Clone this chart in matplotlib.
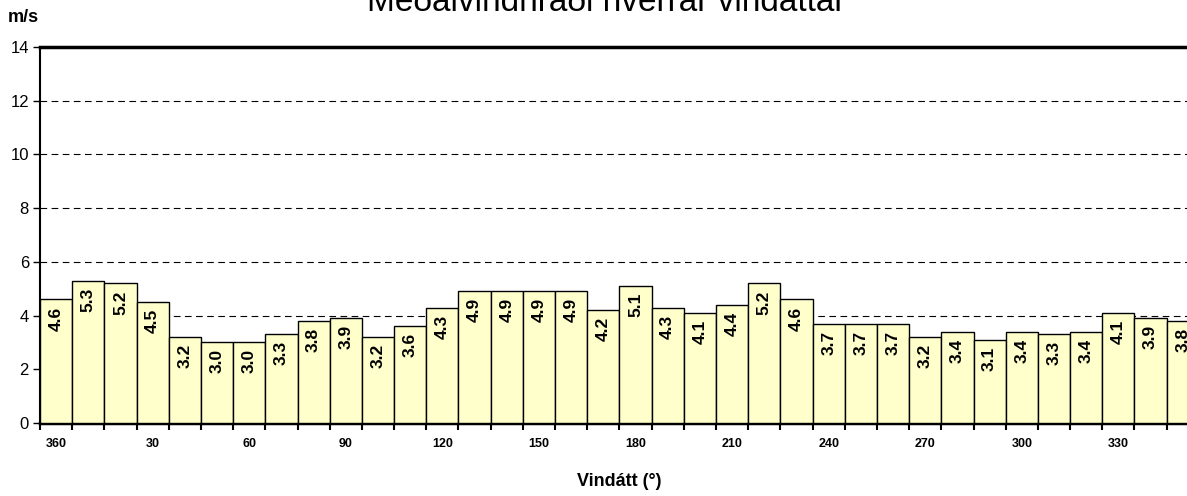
import matplotlib.pyplot as plt
import numpy as np

plt.rcParams['font.family'] = ['Liberation Sans', 'DejaVu Sans']

# wind directions, 10 degree steps starting at 360
directions = [360] + list(range(10, 360, 10))
speeds = [4.6, 5.3, 5.2, 4.5, 3.2, 3.0, 3.0, 3.3, 3.8, 3.9, 3.2, 3.6,
          4.3, 4.9, 4.9, 4.9, 4.9, 4.2, 5.1, 4.3, 4.1, 4.4, 5.2, 4.6,
          3.7, 3.7, 3.7, 3.2, 3.4, 3.1, 3.4, 3.3, 3.4, 4.1, 3.9, 3.8]
labels = ['%.1f' % v for v in speeds]
yticks = [0, 2, 4, 6, 8, 10, 12, 14]

fig = plt.figure(figsize=(11.87, 4.96), dpi=100)
ax = fig.add_axes([40/1187, 1 - 423/496, 1 - 40/1187 + 0.01, (423 - 47)/496])

x = np.arange(len(speeds))
ax.bar(x, speeds, width=1.0, color='#FFFFCC', edgecolor='black', linewidth=1.0, zorder=3)

for xi, v, lab in zip(x, speeds, labels):
    ax.annotate(lab, (xi, v), xytext=(0, -5), textcoords='offset points',
                rotation=90, ha='center', va='top', fontsize=12.5, fontweight='bold', zorder=4)

ax.set_xlim(-0.5, len(speeds) - 0.5)
ax.set_ylim(0, 14)
ax.set_yticks(yticks)
ax.tick_params(axis='y', labelsize=12, length=5, width=1, direction='out', pad=3)
for t in yticks[1:-1]:
    ax.axhline(t, color='black', linestyle=(0, (6, 4)), linewidth=0.8, zorder=1)

ax.set_xticks(np.arange(-0.5, len(speeds), 1.0), minor=False)
ax.set_xticklabels([])
ax.tick_params(axis='x', which='major', length=5, width=1.5, direction='out')
ax.set_xticks(x[::3], minor=True)
ax.set_xticklabels([str(d) for d in directions[::3]], minor=True, fontsize=9, fontweight='bold')
ax.tick_params(axis='x', which='minor', length=0, pad=11)

ax.spines['top'].set_linewidth(2.5)
ax.spines['bottom'].set_linewidth(2.5)
ax.spines['left'].set_linewidth(1.5)
ax.spines['right'].set_visible(False)

ax.set_xlabel('Vindátt (°)', fontsize=13, fontweight='bold', labelpad=16)
fig.text(8/1187, 1 - 18/496, 'm/s', fontsize=13, fontweight='bold', va='center', ha='left')
fig.text(606/1187, 1 - 11/496, 'Meðalvindhraði hverrar vindáttar', fontsize=24, ha='center', va='baseline')

fig.savefig('out.png', dpi=100)
